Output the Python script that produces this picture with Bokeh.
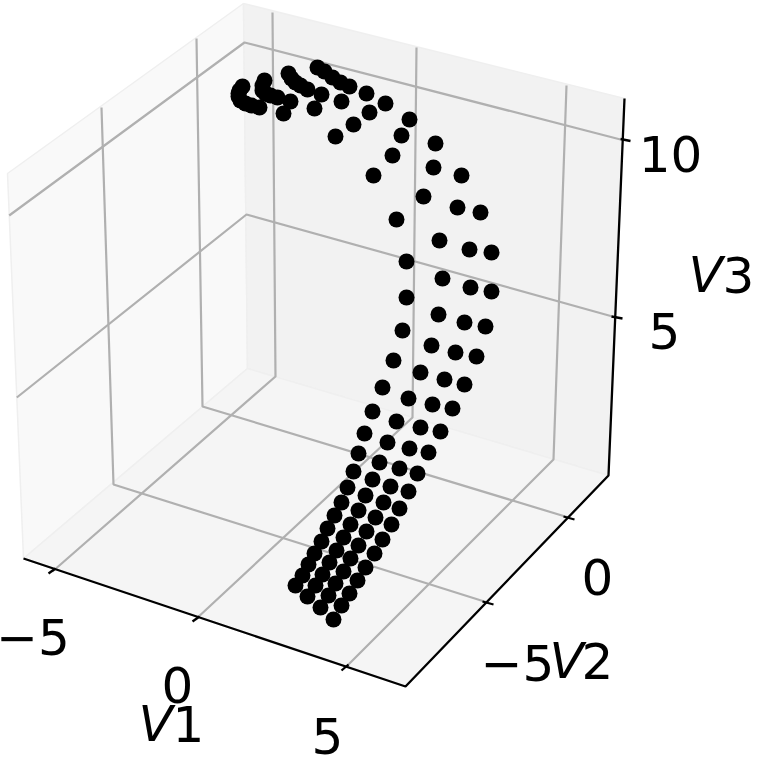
from bokeh.plotting import figure
from bokeh.embed import file_html
from bokeh.resources import INLINE
from bokeh.core.properties import value

# Projected (screen-plane) positions of the four point rows
row1_x = [295,302,308,314,321,327,334,341,347,353,358,364,372,382,393,402,406,406,396,373,335,283,259,251,245,240,238,238,239,242]
row1_y = [585,575,564,553,541,528,515,502,487,471,453,433,411,387,360,330,297,261,219,175,136,113,107,105,103,100,96,93,90,86]
row2_x = [307,315,322,329,336,343,350,358,365,372,379,387,396,408,420,431,438,442,439,423,392,353,314,290,277,270,265,262,262,264]
row2_y = [596,585,574,562,550,537,524,510,495,479,462,442,421,398,372,345,314,278,240,196,155,124,108,101,97,95,93,90,85,80]
row3_x = [320,328,335,343,350,358,366,375,383,390,399,409,420,432,444,455,464,470,469,457,433,401,369,341,321,307,300,295,291,288]
row3_y = [607,595,583,571,558,545,531,517,502,486,468,448,427,404,379,352,322,287,249,207,167,135,112,101,94,89,85,82,78,73]
row4_x = [333,341,349,357,365,374,382,391,399,408,417,428,440,452,464,476,485,491,491,480,461,435,409,385,366,349,340,332,324,317]
row4_y = [619,605,593,580,567,553,539,524,508,491,473,452,431,408,384,356,326,291,252,212,175,143,119,103,93,86,82,77,71,67]

tick_labels = ["\u22125", "0", "5", "\u22125", "0", "10", "5"]
tick_label_x = [32.5, 177, 327, 517, 597, 670, 664]
tick_label_y = [636, 684, 735, 662, 576, 153, 330]

axis_names = ["V", "V", "V"]
axis_digits = ["1", "2", "3"]
axis_name_x = [138, 549, 688]
axis_digit_x = [172, 581, 722]
axis_name_y = [723, 660, 274]

p = figure(width=760, height=758, x_range=(0, 760), y_range=(758, 0),
           output_backend="svg", toolbar_location=None,
           min_border=0, margin=(0, 0, 0, 0))
p.xaxis.visible = False
p.yaxis.visible = False
p.grid.visible = False
p.outline_line_color = None
p.background_fill_color = "white"
p.border_fill_color = "white"

# panes
pane_edge = "#efefef"
p.patch([7, 243, 247, 23], [173, 3, 368, 558], fill_color="#f9f9f9", line_color=pane_edge, line_width=1.5)
p.patch([243, 624, 608, 247], [3, 98, 475, 368], fill_color="#f2f2f2", line_color=pane_edge, line_width=1.5)
p.patch([23, 247, 608, 405], [558, 368, 475, 686], fill_color="#f5f5f5", line_color=pane_edge, line_width=1.5)

# gridlines
grid = "#b0b0b0"
grid_xs = [
    [8.7, 244, 620], [16.3, 246, 612],           # V3 = 10, 5
    [272, 275, 52], [416, 412, 195], [566, 553, 345],  # V1 = -5, 0, 5
    [101, 113, 487], [196, 202, 568],            # V2 = -5, 0
]
grid_ys = [
    [215, 42, 139], [397, 214, 316],
    [12, 376, 571], [47, 417, 619], [85, 459, 667],
    [107, 484, 602], [38, 406, 517],
]
p.multi_line(grid_xs, grid_ys, line_color=grid, line_width=2.2)

# axis lines and ticks
p.line([23, 405, 608, 624], [558, 686, 475, 98], line_color="black", line_width=2.3)
tick_xs = [[48, 55], [192, 199], [341, 348], [482, 493], [563, 574], [620, 630], [611, 622]]
tick_ys = [[573, 568], [621, 616], [670, 664], [601, 604], [516, 519], [138.5, 140.5], [316, 318]]
p.multi_line(tick_xs, tick_ys, line_color="black", line_width=2.3)

# points
for xs, ys in ((row1_x, row1_y), (row2_x, row2_y), (row3_x, row3_y), (row4_x, row4_y)):
    p.scatter(xs, ys, size=16, fill_color="black", line_color=None)

# labels
font = value("DejaVu Sans")
p.text(tick_label_x, tick_label_y, text=tick_labels, text_font=font, text_font_size=value("50px"),
       text_align="center", text_baseline="alphabetic", text_color="black")
p.text(axis_name_x, axis_name_y, text=axis_names, text_font=font, text_font_style="italic",
       text_font_size=value("50px"), text_align="left", text_baseline="alphabetic", text_color="black")
p.text(axis_digit_x, axis_name_y, text=axis_digits, text_font=font, text_font_size=value("50px"),
       text_align="left", text_baseline="alphabetic", text_color="black")

open("out.html", "w").write(file_html(p, INLINE))
